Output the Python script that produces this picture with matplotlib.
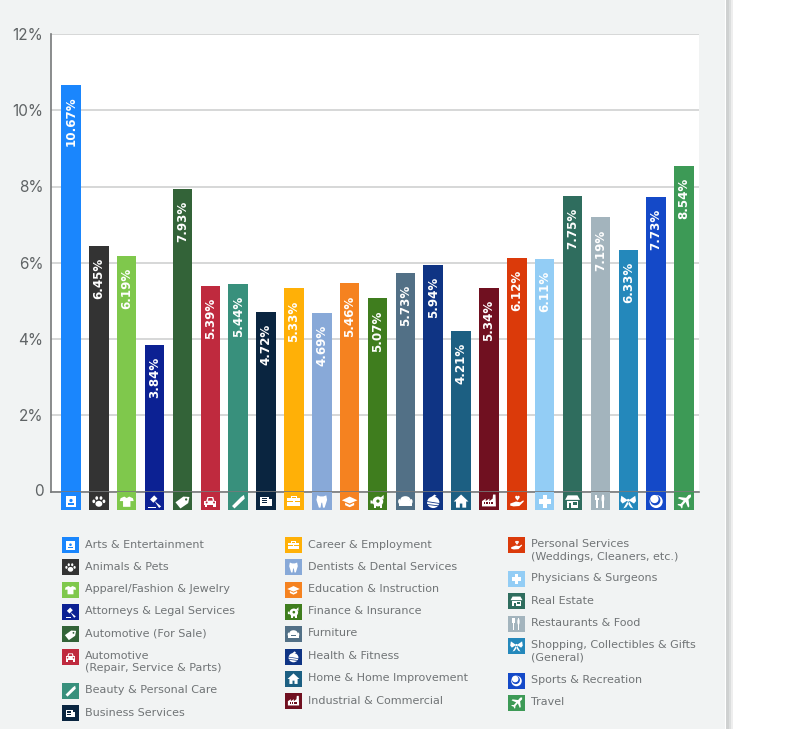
import matplotlib
matplotlib.use("Agg")
import matplotlib.pyplot as plt
from matplotlib.patches import Rectangle, Ellipse, Polygon
from matplotlib.transforms import Affine2D, ScaledTranslation

W, H = 801, 729

categories = ["Arts & Entertainment", "Animals & Pets", "Apparel/Fashion & Jewelry",
              "Attorneys & Legal Services", "Automotive (For Sale)",
              "Automotive\n(Repair, Service & Parts)", "Beauty & Personal Care",
              "Business Services", "Career & Employment", "Dentists & Dental Services",
              "Education & Instruction", "Finance & Insurance", "Furniture",
              "Health & Fitness", "Home & Home Improvement", "Industrial & Commercial",
              "Personal Services\n(Weddings, Cleaners, etc.)", "Physicians & Surgeons",
              "Real Estate", "Restaurants & Food",
              "Shopping, Collectibles & Gifts\n(General)", "Sports & Recreation", "Travel"]
values = [10.67, 6.45, 6.19, 3.84, 7.93, 5.39, 5.44, 4.72, 5.33, 4.69, 5.46, 5.07,
          5.73, 5.94, 4.21, 5.34, 6.12, 6.11, 7.75, 7.19, 6.33, 7.73, 8.54]
colors = ["#1a86fd", "#333333", "#7fc84c", "#0c2193", "#336338", "#bf2a3e", "#38907c",
          "#0a2540", "#ffb007", "#88a9d8", "#f58220", "#3f7d1e", "#527086", "#0f3484",
          "#1c5f82", "#701020", "#db3a0a", "#93cdf5", "#2f6d5e", "#a3b4bd", "#2488bb",
          "#1449c8", "#3d9a56"]
icons = ["arts", "paw", "shirt", "gavel", "tag", "car", "brush", "news", "case", "tooth",
         "cap", "pig", "sofa", "apple", "house", "factory", "hand", "plus", "store", "fork",
         "bow", "ball", "plane"]
y_ticks = [0, 2, 4, 6, 8, 10, 12]
y_labels = ["0", "2%", "4%", "6%", "8%", "10%", "12%"]

BG = "#f1f3f3"
TXT = "#707476"
fig = plt.figure(figsize=(W / 100, H / 100), dpi=100, facecolor="white")
PIX = Affine2D().scale(1 / W, -1 / H).translate(0, 1) + fig.transFigure

fig.add_artist(Rectangle((0, 0), 725, H, transform=PIX, fc=BG, ec="none", zorder=-5))
for x0, w, c in [(726, 3, "#cfd1d1"), (729, 2, "#dcdede"), (731, 2, "#eeeeee")]:
    fig.add_artist(Rectangle((x0, 0), w, H, transform=PIX, fc=c, ec="none", zorder=-5))

L, R, T, B = 51, 699, 34, 491.5
ax = fig.add_axes([L / W, 1 - B / H, (R - L) / W, (B - T) / H], facecolor="white")
step = (684 - 71) / 22
ax.set_xlim((L - 71) / step, 22 + (R - 684) / step)
ax.set_ylim(0, 12)
x = list(range(len(values)))
bw = 19.5 / step
ax.bar(x, values, width=bw, color=colors, zorder=3)
ax.set_yticks(y_ticks, y_labels)
ax.set_xticks([])
ax.tick_params(axis="y", length=0, pad=5.5, labelsize=11, labelcolor="#5f6365")
for t in ax.get_yticklabels():
    t.set_fontfamily("Inter")
zero = ax.get_yticklabels()[0]
zero.set_transform(zero.get_transform() + ScaledTranslation(0, 2 / 100, fig.dpi_scale_trans))
ax.grid(axis="y", color="#cfd1d1", lw=1.2, zorder=1)
ax.set_axisbelow(True)
for s in ["top", "right"]:
    ax.spines[s].set_visible(False)
for s in ["left", "bottom"]:
    ax.spines[s].set_color("#77797a")
    ax.spines[s].set_linewidth(1.2)
    ax.spines[s].set_zorder(5)

for i, v in enumerate(values):
    ax.annotate(f"{v:.2f}%", (i, v), xytext=(0, -12), textcoords="offset pixels",
                rotation=90, ha="center", va="top", color="white", fontsize=8.6,
                fontweight="bold", fontfamily="DejaVu Sans", zorder=6)


def draw_icon(name, cx, cy, s, bg):
    def add(p):
        p.set_transform(Affine2D().scale(s, -s).translate(cx, cy) + PIX)
        p.set_linewidth(0)
        p.set_zorder(8)
        fig.add_artist(p)
    def r(x, y, w, h, c="white"): add(Rectangle((x, y), w, h, fc=c))
    def e(x, y, a, b=None, c="white"): add(Ellipse((x, y), 2 * a, 2 * (b or a), fc=c))
    def p(pts, c="white"): add(Polygon(pts, closed=True, fc=c))
    if name == "arts":
        r(-.62, -.62, 1.24, 1.24); e(0, .12, .2, c=bg); r(-.35, -.38, .7, .22, bg)
    elif name == "paw":
        e(0, -.28, .42, .36)
        for a, b in [(-.62, .02), (-.26, .42), (.26, .42), (.62, .02)]:
            e(a, b, .17, .22)
    elif name == "shirt":
        p([(-.3, .6), (-.75, .4), (-.85, .05), (-.45, .05), (-.45, -.65), (.45, -.65),
           (.45, .05), (.85, .05), (.75, .4), (.3, .6), (0, .42)])
    elif name == "gavel":
        p([(-.55, .25), (-.05, .75), (.35, .35), (-.15, -.15)])
        p([(.0, .05), (.18, -.1), (.8, -.6), (.55, -.8)])
        r(-.75, -.8, .9, .16)
    elif name == "tag":
        p([(-.85, -.1), (.1, .6), (.85, .55), (.7, -.2), (-.25, -.85)])
        e(.45, .25, .14, c=bg)
    elif name == "car":
        p([(-.5, .05), (-.35, .55), (.35, .55), (.5, .05)])
        p([(-.3, .1), (-.22, .42), (.22, .42), (.3, .1)], bg)
        r(-.75, -.4, 1.5, .5)
        r(-.65, -.7, .3, .35); r(.35, -.7, .3, .35)
        e(-.45, -.12, .12, c=bg); e(.45, -.12, .12, c=bg)
    elif name == "brush":
        p([(-.75, -.55), (.35, .55), (.7, .8), (.8, .35), (-.45, -.85)])
    elif name == "news":
        r(-.75, -.6, 1.1, 1.2); r(.4, -.6, .35, .85)
        for y in (.3, .05, -.2):
            r(-.55, y, .7, .11, bg)
    elif name == "case":
        r(-.8, -.6, 1.6, 1.05)
        p([(-.35, .4), (-.35, .7), (.35, .7), (.35, .4), (.2, .4), (.2, .55), (-.2, .55), (-.2, .4)])
        r(-.8, -.1, 1.6, .1, bg); r(-.12, -.2, .24, .28)
    elif name == "tooth":
        p([(-.55, .75), (-.2, .62), (.2, .62), (.55, .75), (.65, .2), (.35, -.75),
           (.15, -.75), (.05, -.15), (-.05, -.15), (-.15, -.75), (-.35, -.75), (-.65, .2)])
    elif name == "cap":
        p([(0, .6), (.95, .15), (0, -.25), (-.95, .15)])
        p([(-.55, -.15), (0, -.42), (.55, -.15), (.55, -.45), (0, -.7), (-.55, -.45)])
    elif name == "pig":
        e(.05, 0, .65, .6); p([(.35, .45), (.75, .8), (.75, .25)]); p([(-.65, .1), (-.85, .15), (-.85, -.25), (-.5, -.25)])
        r(-.4, -.8, .25, .35); r(.25, -.8, .25, .35); e(.05, .05, .2, c=bg)
    elif name == "sofa":
        e(0, .25, .6, .4); r(-.8, -.55, 1.6, .65); e(-.7, 0, .18, .3); e(.7, 0, .18, .3)
        r(-.45, -.2, .9, .07, bg)
    elif name == "apple":
        e(0, -.1, .75, .7); p([(-.2, .55), (.15, .85), (.4, .7), (.1, .5)])
        p([(-.8, .05), (.8, -.2), (.8, -.3), (-.8, -.05)], bg)
        p([(-.8, -.3), (.8, -.5), (.8, -.6), (-.8, -.4)], bg)
    elif name == "house":
        p([(0, .85), (.9, 0), (.62, 0), (.62, -.75), (.15, -.75), (.15, -.25), (-.15, -.25),
           (-.15, -.75), (-.62, -.75), (-.62, 0), (-.9, 0)])
    elif name == "factory":
        p([(-.85, -.6), (-.85, .05), (-.4, .35), (-.4, .05), (.05, .35), (.05, .05), (.45, .35),
           (.5, .85), (.8, .85), (.85, -.6)])
        for a in (-.6, -.3, 0, .3):
            r(a, -.35, .16, .3, bg)
    elif name == "hand":
        e(-.05, .55, .15); e(.2, .55, .15); p([(-.2, .47), (.35, .47), (.08, .1)])
        p([(-.8, -.25), (-.1, .0), (.4, -.1), (.8, .15), (.85, .0), (.3, -.55), (-.4, -.6), (-.8, -.5)])
    elif name == "plus":
        r(-.25, -.75, .5, 1.5); r(-.75, -.25, 1.5, .5)
    elif name == "store":
        p([(-.6, .75), (.6, .75), (.9, .2), (-.9, .2)])
        r(-.7, -.75, 1.4, .85); r(-.45, -.75, .3, .55, bg); r(.05, -.45, .45, .35, bg)
    elif name == "fork":
        r(-.5, -.85, .16, 1.1); r(-.65, .2, .46, .2)
        for a in (-.65, -.5, -.35):
            r(a, .3, .1, .55)
        r(.2, -.85, .18, 1.7); e(.3, .35, .17, .5)
    elif name == "bow":
        p([(-.05, .15), (-.85, .7), (-.95, .05), (-.7, -.25)])
        p([(.05, .15), (.85, .7), (.95, .05), (.7, -.25)])
        p([(-.1, 0), (-.6, -.85), (-.25, -.7), (0, -.3)])
        p([(.1, 0), (.6, -.85), (.25, -.7), (0, -.3)])
        e(0, .15, .17)
    elif name == "ball":
        e(0, 0, .8); e(-.1, .15, .62, c=bg); e(-.2, .3, .5)
    elif name == "plane":
        p([(.85, .85), (.55, .8), (.25, .45), (-.6, .55), (-.75, .4), (-.05, .1), (-.4, -.3),
           (-.7, -.3), (-.8, -.42), (-.45, -.55), (-.3, -.85), (-.2, -.8), (-.15, -.45),
           (.2, -.05), (.5, -.75), (.65, -.6), (.55, .25), (.85, .55)])


# icon tiles below the bars
for i, (c, ic) in enumerate(zip(colors, icons)):
    cx = 71 + i * step
    fig.add_artist(Rectangle((cx - bw * step / 2, 492), bw * step, 18, transform=PIX,
                             fc=c, ec="none", zorder=2))
    draw_icon(ic, cx, 501.5, 8.2, c)

# legend
columns = [(62, [545.5, 567.5, 590, 612.5, 634.5, 657, 691, 713.5]),
           (285, [545.5, 567.5, 590, 612.5, 634.5, 657, 679, 701.5]),
           (508, [545.5, 579, 601.5, 624, 646, 681, 703])]
k = 0
for x0, rows in columns:
    for yc in rows:
        two = "\n" in categories[k]
        fig.add_artist(Rectangle((x0, yc - 8), 17, 16, transform=PIX, fc=colors[k], ec="none", zorder=2))
        draw_icon(icons[k], x0 + 8.5, yc, 6.6, colors[k])
        fig.text((x0 + 23) / W, 1 - (yc - 1 + (6 if two else 0)) / H, categories[k], ha="left",
                 va="center", fontsize=8.0, color=TXT, fontfamily="DejaVu Sans", linespacing=1.3)
        k += 1

fig.savefig("out.png", dpi=100, facecolor=fig.get_facecolor())
